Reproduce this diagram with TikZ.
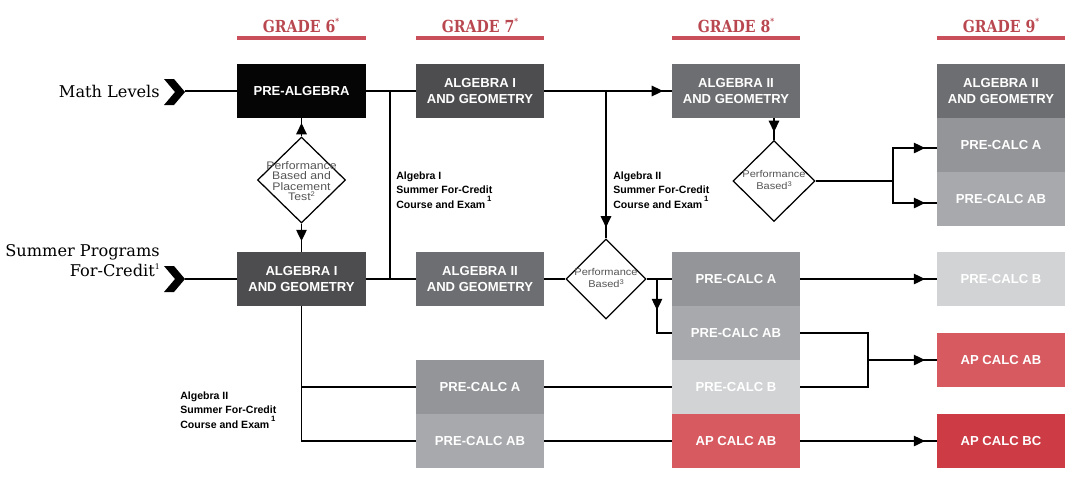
\documentclass[tikz,border=0pt]{standalone}
\usepackage{fontspec}
\setmainfont{Liberation Sans}
\newfontfamily\slab{DejaVu Serif}
\newfontfamily\slabc[FakeStretch=0.85]{DejaVu Serif}
\newfontfamily\dfont[FakeStretch=1.12]{Liberation Sans}
\usetikzlibrary{shapes.geometric,arrows.meta,decorations.markings,calc}
\definecolor{cblack}{HTML}{050505}
\definecolor{cdark}{HTML}{4D4D4F}
\definecolor{cmid}{HTML}{6D6E71}
\definecolor{cpa}{HTML}{939598}
\definecolor{cpab}{HTML}{A7A9AC}
\definecolor{cpb}{HTML}{D1D3D4}
\definecolor{capab}{HTML}{D75A60}
\definecolor{capbc}{HTML}{CD3B45}
\definecolor{gradetxt}{HTML}{B9474F}
\definecolor{gradeline}{HTML}{C9505A}
\definecolor{dtext}{HTML}{555555}
\newcommand{\gsup}{\raisebox{5pt}{\fontsize{6}{6}\selectfont *}}
\newcommand{\ssup}[1]{\raisebox{4.5pt}{\fontsize{5.5}{6}\selectfont #1}}
\newcommand{\dsup}[1]{\raisebox{2.6pt}{\fontsize{4.8}{5}\selectfont #1}}
\tikzset{
  box/.style={rectangle, minimum width=3.2cm, minimum height=1.35cm, inner sep=0pt, outer sep=0pt,
    text=white, align=center, font=\fontsize{9.3}{11}\selectfont\bfseries},
  dia/.style={diamond, draw=black, line width=0.9pt, inner sep=0pt, fill=white},
  dtxt/.style={text=dtext, align=center, inner sep=0pt},
  lab/.style={align=left, inner sep=0pt, anchor=north west, font=\fontsize{7.5}{10}\selectfont\bfseries},
  conn/.style={line width=0.9pt},
  arr/.style={conn, postaction={decorate}, decoration={markings,
    mark=at position -#1 with {\arrow{Triangle[length=8pt,width=7.5pt]}}}},
  arr/.default=8.5pt,
  grade/.style={text=gradetxt, font=\slabc\bfseries\fontsize{11.8}{14}\selectfont, anchor=base},
  gline/.style={draw=gradeline, line width=2.2pt},
  side/.style={font=\slab\fontsize{11.5}{14.2}\selectfont, align=right, anchor=base east, inner sep=0pt}
}
\begin{document}
\begin{tikzpicture}[x=0.025cm, y=-0.025cm]
\useasboundingbox (0,0) rectangle (1080,483);
% grade headers
\node[grade] (g6) at (301,32) {GRADE 6\gsup};
\node[grade] (g7) at (480,32) {GRADE 7\gsup};
\node[grade] (g8) at (736,32) {GRADE 8\gsup};
\node[grade] (g9) at (1001,32) {GRADE 9\gsup};
\draw[gline] (237,38) -- (366,38);
\draw[gline] (416,38) -- (544,38);
\draw[gline] (672,38) -- (800,38);
\draw[gline] (937,38) -- (1065,38);
% side labels
\node[side] (ml) at (160,97) {Math Levels};
\node[side] (sp) at (160,276) {Summer Programs\\For-Credit\ssup{1}};
\fill (164,79) -- (174,79) -- (185,92) -- (174,105) -- (164,105) -- (175,92) -- cycle;
\fill (164,266) -- (174,266) -- (185,279) -- (174,292) -- (164,292) -- (175,279) -- cycle;
\coordinate (ch1) at (185,91);
\coordinate (ch2) at (185,279);
% boxes
\node[box, fill=cblack] (prealg) at (301.5,91) {PRE-ALGEBRA};
\node[box, fill=cdark] (alga6) at (301.5,279) {ALGEBRA I\\AND GEOMETRY};
\node[box, fill=cdark] (alga7) at (480,91) {ALGEBRA I\\AND GEOMETRY};
\node[box, fill=cmid] (algb7) at (480,279) {ALGEBRA II\\AND GEOMETRY};
\node[box, fill=cpa] (pca7) at (480,387) {PRE-CALC A};
\node[box, fill=cpab] (pcab7) at (480,441) {PRE-CALC AB};
\node[box, fill=cmid] (algb8) at (736,91) {ALGEBRA II\\AND GEOMETRY};
\node[box, fill=cpa] (pca8) at (736,279) {PRE-CALC A};
\node[box, fill=cpab] (pcab8) at (736,333) {PRE-CALC AB};
\node[box, fill=cpb] (pcb8) at (736,387) {PRE-CALC B};
\node[box, fill=capab] (apab8) at (736,441) {AP CALC AB};
\node[box, fill=cmid] (algb9) at (1001,91) {ALGEBRA II\\AND GEOMETRY};
\node[box, fill=cpa] (pca9) at (1001,145) {PRE-CALC A};
\node[box, fill=cpab] (pcab9) at (1001,199) {PRE-CALC AB};
\node[box, fill=cpb] (pcb9) at (1001,279) {PRE-CALC B};
\node[box, fill=capab] (apab9) at (1001,360) {AP CALC AB};
\node[box, fill=capbc] (apbc9) at (1001,441) {AP CALC BC};
% diamonds
\node[dia, minimum width=2.2cm, minimum height=2.15cm] (d1) at (301.5,180) {};
\node[dtxt, font=\dfont\fontsize{7.8}{7.4}\selectfont] (d1t) at (301.5,181) {Performance\\Based and\\Placement\\Test\dsup{2}};
\node[dia, minimum width=2.05cm, minimum height=2.02cm] (d2) at (774,181) {};
\node[dtxt, font=\dfont\fontsize{7}{8.8}\selectfont] (d2t) at (774,180) {Performance\\Based\dsup{3}};
\node[dia, minimum width=2cm, minimum height=2cm] (d3) at (606,279) {};
\node[dtxt, font=\dfont\fontsize{7}{8.8}\selectfont] (d3t) at (606,278) {Performance\\Based\dsup{3}};
% labels
\node[lab] (l1) at (396,172) {Algebra I\\Summer For-Credit\\Course and Exam\,\ssup{1}};
\node[lab] (l2) at (613,172) {Algebra II\\Summer For-Credit\\Course and Exam\,\ssup{1}};
\node[lab] (l3) at (180,392) {Algebra II\\Summer For-Credit\\Course and Exam\,\ssup{1}};
% connectors
\draw[conn] (ch1) -- (prealg.west);
\draw[conn] (ch2) -- (alga6.west);
\draw[conn] (prealg.east) -- (alga7.west);
\coordinate (j1) at (390,91);
\draw[conn] (j1) -- (j1 |- alga6.east);
\draw[conn] (alga6.east) -- (algb7.west);
\draw[arr=3.6pt] (d1.north) -- (prealg.south);
\draw[arr=7.8pt] (d1.south) -- (alga6.north);
\draw[arr=6.4pt] (alga7.east) -- (algb8.west);
\coordinate (j2) at (606,91);
\draw[arr=7.8pt] (j2) -- (d3.north);
\draw[arr=5.7pt] (d2.north |- algb8.south) -- (d2.north);
\coordinate (j3) at (893,181);
\draw[conn] (d2.east) -- (j3);
\draw[arr] (j3) |- ($(pca9.west)+(0,3)$);
\draw[arr] (j3) |- ($(pcab9.west)+(0,4)$);
\draw[conn] (algb7.east) -- (d3.west);
\draw[conn] (d3.east) -- (pca8.west);
\coordinate (j4) at (657,279);
\draw[arr=27pt] (j4) |- (pcab8.west);
\draw[arr] (pca8.east) -- (pcb9.west);
\coordinate (j5) at (868,360);
\draw[conn] (pcab8.east) -| (j5);
\draw[conn] (pcb8.east) -| (j5);
\draw[arr] (j5) -- (apab9.west);
\draw[arr] (apab8.east) -- (apbc9.west);
\draw[conn] (alga6.south) |- (pcab7.west);
\draw[conn] (alga6.south |- pca7.west) -- (pca7.west);
\draw[conn] (pca7.east) -- (pcb8.west);
\draw[conn] (pcab7.east) -- (apab8.west);
\end{tikzpicture}
\end{document}
